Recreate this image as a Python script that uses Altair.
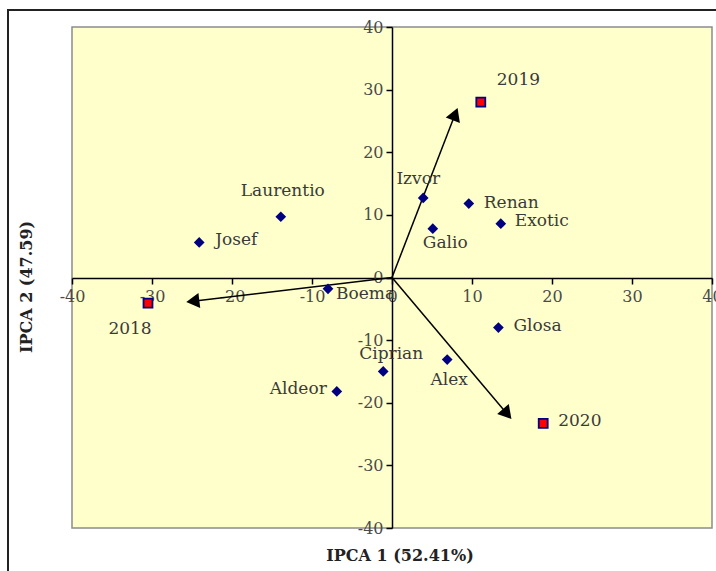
import math
import altair as alt
import pandas as pd

# Genotype scores on the two interaction principal components
genotypes = ["Josef", "Laurentio", "Boema", "Izvor", "Renan", "Exotic",
             "Galio", "Glosa", "Ciprian", "Alex", "Aldeor"]
g_ipca1 = [-24.1, -13.9, -8.0, 3.9, 9.6, 13.6, 5.1, 13.3, -1.1, 6.9, -6.9]
g_ipca2 = [5.6, 9.7, -1.8, 12.7, 11.8, 8.6, 7.8, -8.0, -15.0, -13.1, -18.2]

# Environment (year) scores
years = ["2018", "2019", "2020"]
e_ipca1 = [-30.5, 11.1, 18.9]
e_ipca2 = [-4.1, 28.0, -23.3]

# Environment vectors drawn from the origin
vec_ipca1 = [-24.9, 7.9, 14.4]
vec_ipca2 = [-3.8, 26.1, -21.8]

ticks = [-40, -30, -20, -10, 0, 10, 20, 30, 40]

W, H = 640, 501
DOM = [-40, 40]
SERIF = "DejaVu Serif"

# label placement: name -> (align, dx, dy)
placement = {
    "Josef": ("left", 16, -2),
    "Laurentio": ("center", 2, -26),
    "Boema": ("left", 8, 5),
    "Izvor": ("center", -5, -19),
    "Renan": ("left", 15, -1),
    "Exotic": ("left", 14, -3),
    "Galio": ("left", -10, 14),
    "Glosa": ("left", 15, -2),
    "Ciprian": ("center", 8, -17),
    "Alex": ("center", 2, 20),
    "Aldeor": ("right", -10, -2),
    "2018": ("center", -18, 26),
    "2019": ("left", 16, -22),
    "2020": ("left", 15, -2),
}

geno = pd.DataFrame({"name": genotypes, "x": g_ipca1, "y": g_ipca2})
env = pd.DataFrame({"name": years, "x": e_ipca1, "y": e_ipca2})

px_x = W / (DOM[1] - DOM[0])
px_y = H / (DOM[1] - DOM[0])
vec = pd.DataFrame({
    "name": years,
    "x0": [0.0] * 3, "y0": [0.0] * 3,
    "x": vec_ipca1, "y": vec_ipca2,
})
vec["angle"] = [
    math.degrees(math.atan2(a * px_x, b * px_y)) % 360
    for a, b in zip(vec_ipca1, vec_ipca2)
]

xs = alt.Scale(domain=DOM, nice=False, zero=False)
ys = alt.Scale(domain=DOM, nice=False, zero=False)

axis_style = dict(
    values=ticks, title=None, grid=False,
    domainColor="black", domainWidth=1.5, tickColor="black",
    tickWidth=1.5, tickSize=6, labelFont=SERIF, labelFontSize=16,
    labelColor="#4a4a4a", labelFlush=False, labelOverlap=False,
    labelExpr="'' + datum.value",
)
x_axis = alt.Axis(offset=-(H / 2 - 0.5), labelPadding=4, **axis_style)
y_axis = alt.Axis(offset=-(W / 2), labelPadding=3, **axis_style)

frame = alt.Chart(pd.DataFrame({"k": [0]})).mark_rect(
    fill=None, stroke="#222222", strokeWidth=2, clip=False
).encode(x=alt.value(-64), x2=alt.value(720), y=alt.value(-17), y2=alt.value(620))

base_axes = alt.Chart(geno).mark_point(opacity=0).encode(
    x=alt.X("x:Q", scale=xs, axis=x_axis),
    y=alt.Y("y:Q", scale=ys, axis=y_axis),
)

arrows = alt.Chart(vec).mark_rule(color="black", strokeWidth=1.5).encode(
    x=alt.X("x0:Q", scale=xs), y=alt.Y("y0:Q", scale=ys),
    x2="x:Q", y2="y:Q",
)
heads = alt.Chart(vec).mark_point(
    shape="triangle-up", filled=True, color="black", size=230, opacity=1
).encode(
    x=alt.X("x:Q", scale=xs), y=alt.Y("y:Q", scale=ys),
    angle=alt.Angle("angle:Q", scale=None),
)

geno_pts = alt.Chart(geno).mark_point(
    shape="diamond", filled=True, color="#000080", size=115, opacity=1
).encode(x=alt.X("x:Q", scale=xs), y=alt.Y("y:Q", scale=ys))

env_pts = alt.Chart(env).mark_square(
    fill="#ff0000", stroke="#000080", strokeWidth=1.8, size=80, opacity=1
).encode(x=alt.X("x:Q", scale=xs), y=alt.Y("y:Q", scale=ys))

labels_df = pd.concat([geno, env], ignore_index=True)
label_layers = []
for name, (align, dx, dy) in placement.items():
    label_layers.append(
        alt.Chart(labels_df).transform_filter(alt.datum.name == name).mark_text(
            align=align, baseline="middle", dx=dx, dy=dy, font=SERIF,
            fontSize=17, color="#3a3a3a"
        ).encode(x=alt.X("x:Q", scale=xs), y=alt.Y("y:Q", scale=ys), text="name:N")
    )

x_title = alt.Chart(pd.DataFrame({"t": ["IPCA 1 (52.41%)"]})).mark_text(
    font=SERIF, fontSize=16, fontWeight="bold", color="#222222", clip=False
).encode(x=alt.value(328), y=alt.value(529), text="t:N")
y_title = alt.Chart(pd.DataFrame({"t": ["IPCA 2 (47.59)"]})).mark_text(
    font=SERIF, fontSize=16, fontWeight="bold", color="#222222", angle=270,
    clip=False
).encode(x=alt.value(-45), y=alt.value(260), text="t:N")

chart = alt.layer(
    frame, base_axes, arrows, heads, geno_pts, env_pts, *label_layers,
    x_title, y_title
).properties(
    width=W, height=H,
    autosize=alt.AutoSizeParams(type="none"),
    padding={"left": 72, "top": 27, "right": 4, "bottom": 43},
    background="white",
).configure_view(
    fill="#FFFFCC", stroke="#8c8c8c", strokeWidth=1.5
)

chart.save("out.html", embed_options={"renderer": "svg", "actions": False})
